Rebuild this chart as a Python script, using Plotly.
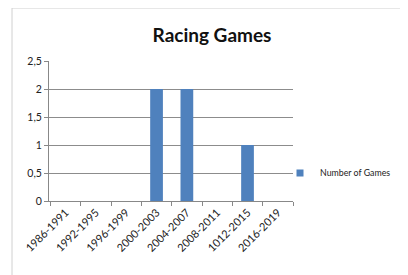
import plotly.graph_objects as go

categories = ["1986-1991", "1992-1995", "1996-1999", "2000-2003",
              "2004-2007", "2008-2011", "1012-2015", "2016-2019"]
games = [0, 0, 0, 2, 2, 0, 1, 0]
series_name = "Number of Games"
bar_color = "#4F81BD"

# page body adds an 8px margin, so the figure is drawn 8px smaller and offset
OFF = 8
W, H = 408 - OFF, 275 - OFF
ml, mt = 49 - OFF, 61 - OFF
pw, ph = 244, 140
mr, mb = W - ml - pw, H - mt - ph

def px_x(x):
    return (x - OFF - ml) / pw

def px_y(y):
    return (mt + ph - (y - OFF)) / ph

fig = go.Figure()
fig.add_trace(go.Bar(x=categories, y=games, name=series_name,
                     marker=dict(color=bar_color, line=dict(width=0)),
                     showlegend=False))
# legend entry with a small square swatch
fig.add_trace(go.Scatter(x=[categories[0]], y=[None], name=series_name,
                         mode="markers",
                         marker=dict(symbol="square", size=7, color=bar_color),
                         showlegend=True, hoverinfo="skip"))

fig.update_layout(
    width=W, height=H,
    margin=dict(l=ml, r=mr, t=mt, b=mb, autoexpand=False),
    paper_bgcolor="white", plot_bgcolor="white",
    separators=", ",
    bargap=0.58,
    font=dict(family="Lato, Open Sans, sans-serif", size=10, color="#222"),
    title=dict(text="<b>Racing Games</b>", x=px_x(212), xref="paper", xanchor="center",
               y=1 - (35 - OFF) / H, yanchor="middle",
               font=dict(family="Lato, Open Sans, sans-serif", size=19, color="#111")),
    showlegend=True,
    legend=dict(x=px_x(280), xanchor="left", y=px_y(173), yanchor="middle",
                font=dict(size=8.8, color="#222"), itemwidth=30,
                bgcolor="rgba(0,0,0,0)"),
    shapes=[dict(type="line", xref="paper", yref="paper",
                 x0=px_x(12), x1=px_x(12), y0=px_y(8), y1=px_y(300),
                 line=dict(color="#d0d0d0", width=1)),
            dict(type="line", xref="paper", yref="paper",
                 x0=px_x(12), x1=px_x(450), y0=px_y(8), y1=px_y(8),
                 line=dict(color="#d0d0d0", width=1))],
)
fig.update_xaxes(type="category", tickangle=-45, tickson="boundaries",
                 ticks="outside", ticklen=4, tickcolor="#888",
                 showline=True, linecolor="#888", linewidth=1,
                 showgrid=False, tickfont=dict(size=11))
fig.update_yaxes(range=[0, 2.5], dtick=0.5, tick0=0,
                 ticks="outside", ticklen=4, tickcolor="#888",
                 showline=True, linecolor="#888", linewidth=1,
                 showgrid=True, gridcolor="#8c8c8c", gridwidth=1,
                 zeroline=False, tickfont=dict(size=10.5))

fig.write_html("out.html")
